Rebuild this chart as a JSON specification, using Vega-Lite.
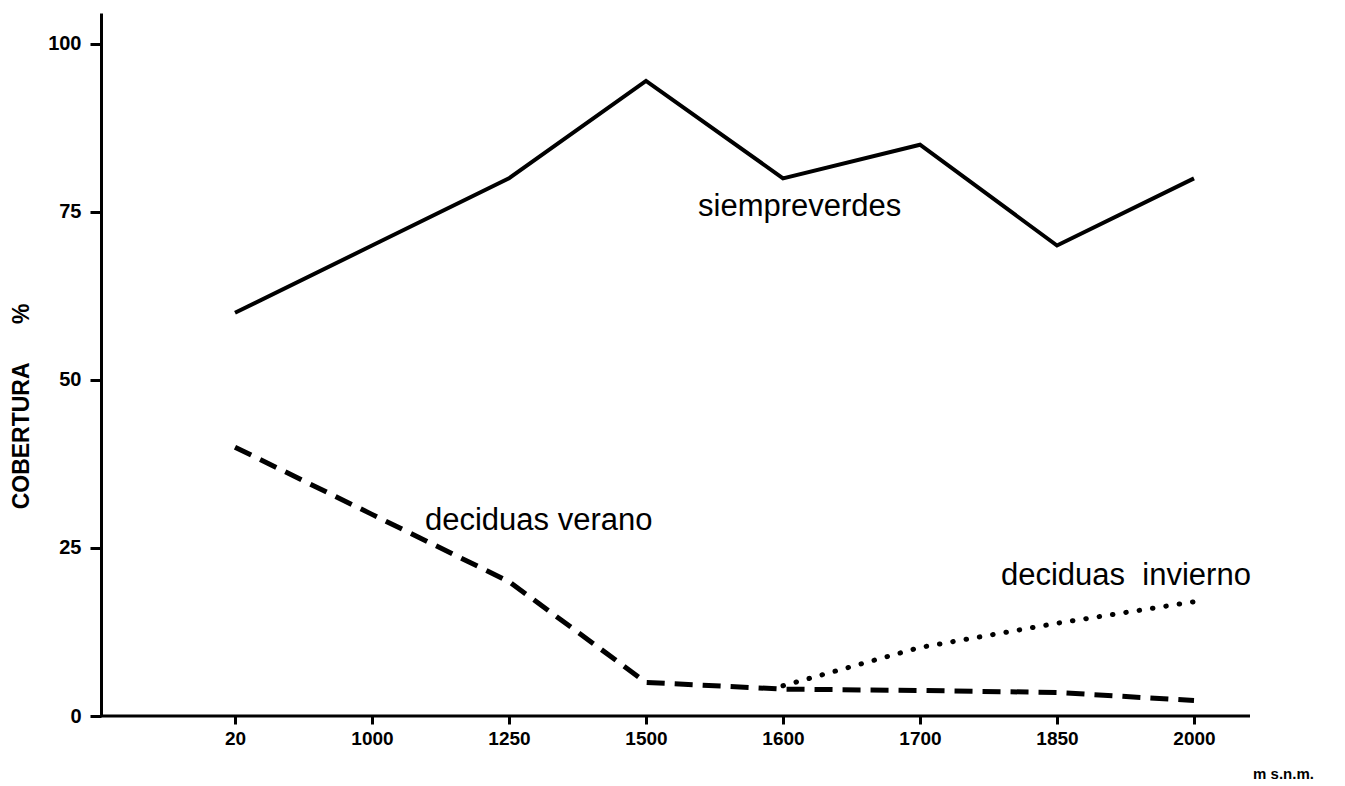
{
  "$schema": "https://vega.github.io/schema/vega-lite/v6.json",
  "width": 1149,
  "height": 703,
  "autosize": {"type": "none"},
  "padding": {"left": 101, "top": 13, "right": 95, "bottom": 70},
  "background": "white",
  "config": {"view": {"stroke": null}, "font": "Liberation Sans"},
  "datasets": {
    "series": [
      {"alt": "20", "serie": "siempreverdes", "cobertura": 60},
      {"alt": "1000", "serie": "siempreverdes", "cobertura": 70},
      {"alt": "1250", "serie": "siempreverdes", "cobertura": 80},
      {"alt": "1500", "serie": "siempreverdes", "cobertura": 94.5},
      {"alt": "1600", "serie": "siempreverdes", "cobertura": 80},
      {"alt": "1700", "serie": "siempreverdes", "cobertura": 85},
      {"alt": "1850", "serie": "siempreverdes", "cobertura": 70},
      {"alt": "2000", "serie": "siempreverdes", "cobertura": 80},
      {"alt": "20", "serie": "deciduas verano", "cobertura": 40},
      {"alt": "1000", "serie": "deciduas verano", "cobertura": 30},
      {"alt": "1250", "serie": "deciduas verano", "cobertura": 20},
      {"alt": "1500", "serie": "deciduas verano", "cobertura": 5},
      {"alt": "1600", "serie": "deciduas verano", "cobertura": 4},
      {"alt": "1700", "serie": "deciduas verano", "cobertura": 3.8},
      {"alt": "1850", "serie": "deciduas verano", "cobertura": 3.5},
      {"alt": "2000", "serie": "deciduas verano", "cobertura": 2.3},
      {"alt": "1600", "serie": "deciduas invierno", "cobertura": 4.5},
      {"alt": "1700", "serie": "deciduas invierno", "cobertura": 10.2},
      {"alt": "1850", "serie": "deciduas invierno", "cobertura": 13.8},
      {"alt": "2000", "serie": "deciduas invierno", "cobertura": 17}
    ],
    "labels": [
      {"label": "siempreverdes", "alt": "1600", "cobertura": 75.7},
      {"label": "deciduas verano", "alt": "1250", "cobertura": 29},
      {"label": "deciduas\u00a0 invierno", "alt": "1850", "cobertura": 20.8}
    ]
  },
  "layer": [
    {
      "data": {"values": [{}]},
      "mark": {"type": "rule", "strokeWidth": 3, "color": "black"},
      "encoding": {"y": {"datum": 0, "type": "quantitative"}}
    },
    {
      "data": {"name": "series"},
      "transform": [{"filter": "datum.serie == 'siempreverdes'"}],
      "mark": {"type": "line", "color": "black", "strokeWidth": 4},
      "encoding": {
        "x": {
          "field": "alt", "type": "ordinal", "sort": null,
          "scale": {"type": "point", "padding": 0, "domain": ["20", "1000", "1250", "1500", "1600", "1700", "1850", "2000"], "range": [134, 1093]},
          "axis": {
            "title": "m s.n.m.", "domain": false, "tickSize": 8, "tickWidth": 3, "tickColor": "black",
            "labelFontWeight": "bold", "labelFontSize": 19, "labelColor": "black", "labelPadding": 5, "labelAngle": 0,
            "titleFontSize": 15, "titleFontWeight": "bold", "titleColor": "black",
            "titleX": 1182, "titleY": 57, "titleAlign": "center", "titleBaseline": "middle"
          }
        },
        "y": {
          "field": "cobertura", "type": "quantitative",
          "scale": {"domain": [0, 104.6], "nice": false, "zero": true},
          "axis": {
            "title": "COBERTURA\u00a0\u00a0\u00a0\u00a0\u00a0\u00a0%", "values": [0, 25, 50, 75, 100], "grid": false,
            "domainWidth": 3, "domainColor": "black", "tickSize": 11, "tickWidth": 3, "tickColor": "black",
            "labelFontSize": 20, "labelFontWeight": "bold", "labelColor": "black", "labelPadding": 9,
            "titleFontSize": 23, "titleFontWeight": "bold", "titleColor": "black",
            "titleX": -80, "titleY": 393, "titleAngle": -90, "titleAlign": "center", "titleBaseline": "middle"
          }
        }
      }
    },
    {
      "data": {"name": "series"},
      "transform": [{"filter": "datum.serie == 'deciduas verano'"}],
      "mark": {"type": "line", "color": "black", "strokeWidth": 5, "strokeDash": [18, 10]},
      "encoding": {
        "x": {"field": "alt", "type": "ordinal", "sort": null},
        "y": {"field": "cobertura", "type": "quantitative"}
      }
    },
    {
      "data": {"name": "series"},
      "transform": [{"filter": "datum.serie == 'deciduas invierno'"}],
      "mark": {"type": "line", "color": "black", "strokeWidth": 5, "strokeDash": [0.5, 13], "strokeCap": "round"},
      "encoding": {
        "x": {"field": "alt", "type": "ordinal", "sort": null},
        "y": {"field": "cobertura", "type": "quantitative"}
      }
    },
    {
      "data": {"name": "labels"},
      "transform": [{"filter": "datum.label == 'siempreverdes'"}],
      "mark": {"type": "text", "align": "left", "baseline": "middle", "dx": -85, "fontSize": 31, "color": "black"},
      "encoding": {
        "x": {"field": "alt", "type": "ordinal", "sort": null},
        "y": {"field": "cobertura", "type": "quantitative"},
        "text": {"field": "label"}
      }
    },
    {
      "data": {"name": "labels"},
      "transform": [{"filter": "datum.label == 'deciduas verano'"}],
      "mark": {"type": "text", "align": "left", "baseline": "middle", "dx": -84, "fontSize": 31, "color": "black"},
      "encoding": {
        "x": {"field": "alt", "type": "ordinal", "sort": null},
        "y": {"field": "cobertura", "type": "quantitative"},
        "text": {"field": "label"}
      }
    },
    {
      "data": {"name": "labels"},
      "transform": [{"filter": "datum.alt == '1850'"}],
      "mark": {"type": "text", "align": "left", "baseline": "middle", "dx": -56, "fontSize": 31, "color": "black"},
      "encoding": {
        "x": {"field": "alt", "type": "ordinal", "sort": null},
        "y": {"field": "cobertura", "type": "quantitative"},
        "text": {"field": "label"}
      }
    }
  ]
}
